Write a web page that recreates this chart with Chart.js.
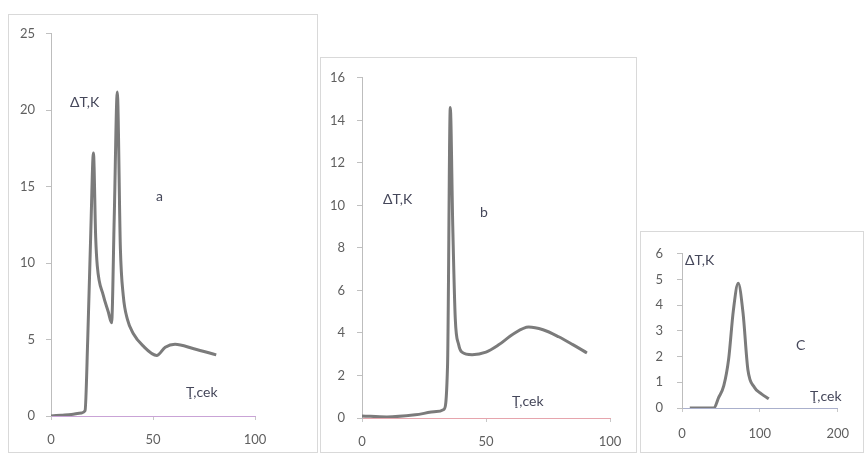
<!DOCTYPE html>
<html>
<head>
<meta charset="utf-8">
<script src="https://cdn.jsdelivr.net/npm/chart.js@4/dist/chart.umd.min.js"></script>
<style>
  body { margin: 0; background: #fff; width: 864px; height: 453px; overflow: hidden; position: relative; }
  .panel { position: absolute; border: 1px solid #d9d9d9; box-sizing: border-box; background: #fff; }
  .panel canvas { position: absolute; left: 0; top: 0; }
  .note { position: absolute; font-family: Lato, 'Open Sans', sans-serif; font-size: 14px; color: #45475a; white-space: nowrap; }
</style>
</head>
<body>

<div class="panel" id="pa" style="left:8px;top:14px;width:310px;height:439px;"><canvas id="chartA" width="308" height="437"></canvas></div>
<div class="panel" id="pb" style="left:320px;top:57px;width:317px;height:396px;"><canvas id="chartB" width="315" height="394"></canvas></div>
<div class="panel" id="pc" style="left:640px;top:231px;width:224px;height:222px;"><canvas id="chartC" width="222" height="220"></canvas></div>

<div class="note" style="left:70px;top:93px;">ΔT,K</div>
<div class="note" style="left:156px;top:187px;">a</div>
<div class="note" style="left:186px;top:383px;">Ţ,cek</div>

<div class="note" style="left:383px;top:190px;">ΔT,K</div>
<div class="note" style="left:480px;top:203px;">b</div>
<div class="note" style="left:512px;top:392px;">Ţ,cek</div>

<div class="note" style="left:685px;top:251px;">ΔT,K</div>
<div class="note" style="left:796px;top:336px;">C</div>
<div class="note" style="left:810px;top:387px;">Ţ,cek</div>

<script>
// ─── Données ───
const timeA  = [0, 5, 10, 15, 16.7, 18, 19.5, 20.8, 21.9, 22.7, 25.6, 28.1, 29.7, 31, 32.5, 34, 35.4, 37.5, 40.3, 45, 51.8, 56, 60.8, 70, 81];
const deltaA = [0, 0.05, 0.1, 0.2, 0.35, 5, 12, 17.2, 11.7, 9.8, 7.9, 6.8, 6.1, 13, 21.2, 11, 7.9, 6.3, 5.4, 4.6, 3.96, 4.5, 4.7, 4.4, 4.0];

const timeB  = [0, 10, 21.5, 30, 33, 34.5, 35.6, 36.6, 37.6, 39, 40.3, 44.4, 50, 55.1, 61, 67.2, 73, 79.3, 85, 90.7];
const deltaB = [0.1, 0.05, 0.15, 0.3, 0.4, 2.5, 14.6, 9, 4.7, 3.44, 3.1, 2.98, 3.1, 3.44, 3.95, 4.28, 4.15, 3.82, 3.45, 3.06];

const timeC  = [10, 20, 30, 41, 47, 53.7, 59.9, 66, 72.2, 78.4, 84.6, 92.9, 102, 111.5];
const deltaC = [0, 0, 0, 0, 0.4, 0.87, 1.9, 3.8, 4.85, 3.7, 1.5, 0.81, 0.55, 0.36];

// ─── Style commun ───
const LINE  = '#7b7b7b';
const TICKS = '#5f5f5f';
const FONT  = { family: "Lato, 'Open Sans', sans-serif", size: 13 };

function makePanel(canvasId, xs, ys, o) {
  const ctx = document.getElementById(canvasId);
  return new Chart(ctx, {
    type: 'scatter',
    data: {
      datasets: [{
        data: xs.map((x, i) => ({ x, y: ys[i] })),
        showLine: true,
        borderColor: LINE,
        borderWidth: 3,
        pointRadius: 0,
        tension: o.tension,
        cubicInterpolationMode: 'monotone',
      }]
    },
    options: {
      responsive: false,
      animation: false,
      layout: { padding: { top: o.padTop, right: o.padRight, left: 0, bottom: 0 } },
      plugins: { legend: { display: false }, tooltip: { enabled: false } },
      scales: {
        x: {
          type: 'linear', min: 0, max: o.xMax,
          ticks: { stepSize: o.xStep, color: TICKS, font: FONT, padding: o.xPad, maxRotation: 0 },
          grid: { drawOnChartArea: false, drawTicks: true, tickLength: 4, color: '#c8c8c8' },
          border: { color: o.xAxisColor, width: 1 },
          afterFit: (s) => { s.height = o.xH; }
        },
        y: {
          min: 0, max: o.yMax,
          ticks: { stepSize: o.yStep, color: TICKS, font: FONT, padding: o.yPad },
          grid: { drawOnChartArea: false, drawTicks: true, tickLength: 5, color: '#c0c0c0' },
          border: { color: '#bdbdbd', width: 1 },
          afterFit: (s) => { s.width = o.yW; }
        }
      }
    }
  });
}

makePanel('chartA', timeA, deltaA, {
  xMax: 100, xStep: 50, yMax: 25, yStep: 5,
  padTop: 11, padRight: 62, yW: 42, xH: 36, xPad: 12, yPad: 11,
  xAxisColor: '#c9a3d6', tension: 0.3
});

makePanel('chartB', timeB, deltaB, {
  xMax: 100, xStep: 50, yMax: 16, yStep: 2,
  padTop: 11, padRight: 26, yW: 41, xH: 34, xPad: 12, yPad: 12,
  xAxisColor: '#e6a5ad', tension: 0.3
});

makePanel('chartC', timeC, deltaC, {
  xMax: 200, xStep: 100, yMax: 6, yStep: 1,
  padTop: 20, padRight: 16, yW: 41, xH: 44, xPad: 14, yPad: 14,
  xAxisColor: '#aab0cc', tension: 0.2
});
</script>
</body>
</html>
